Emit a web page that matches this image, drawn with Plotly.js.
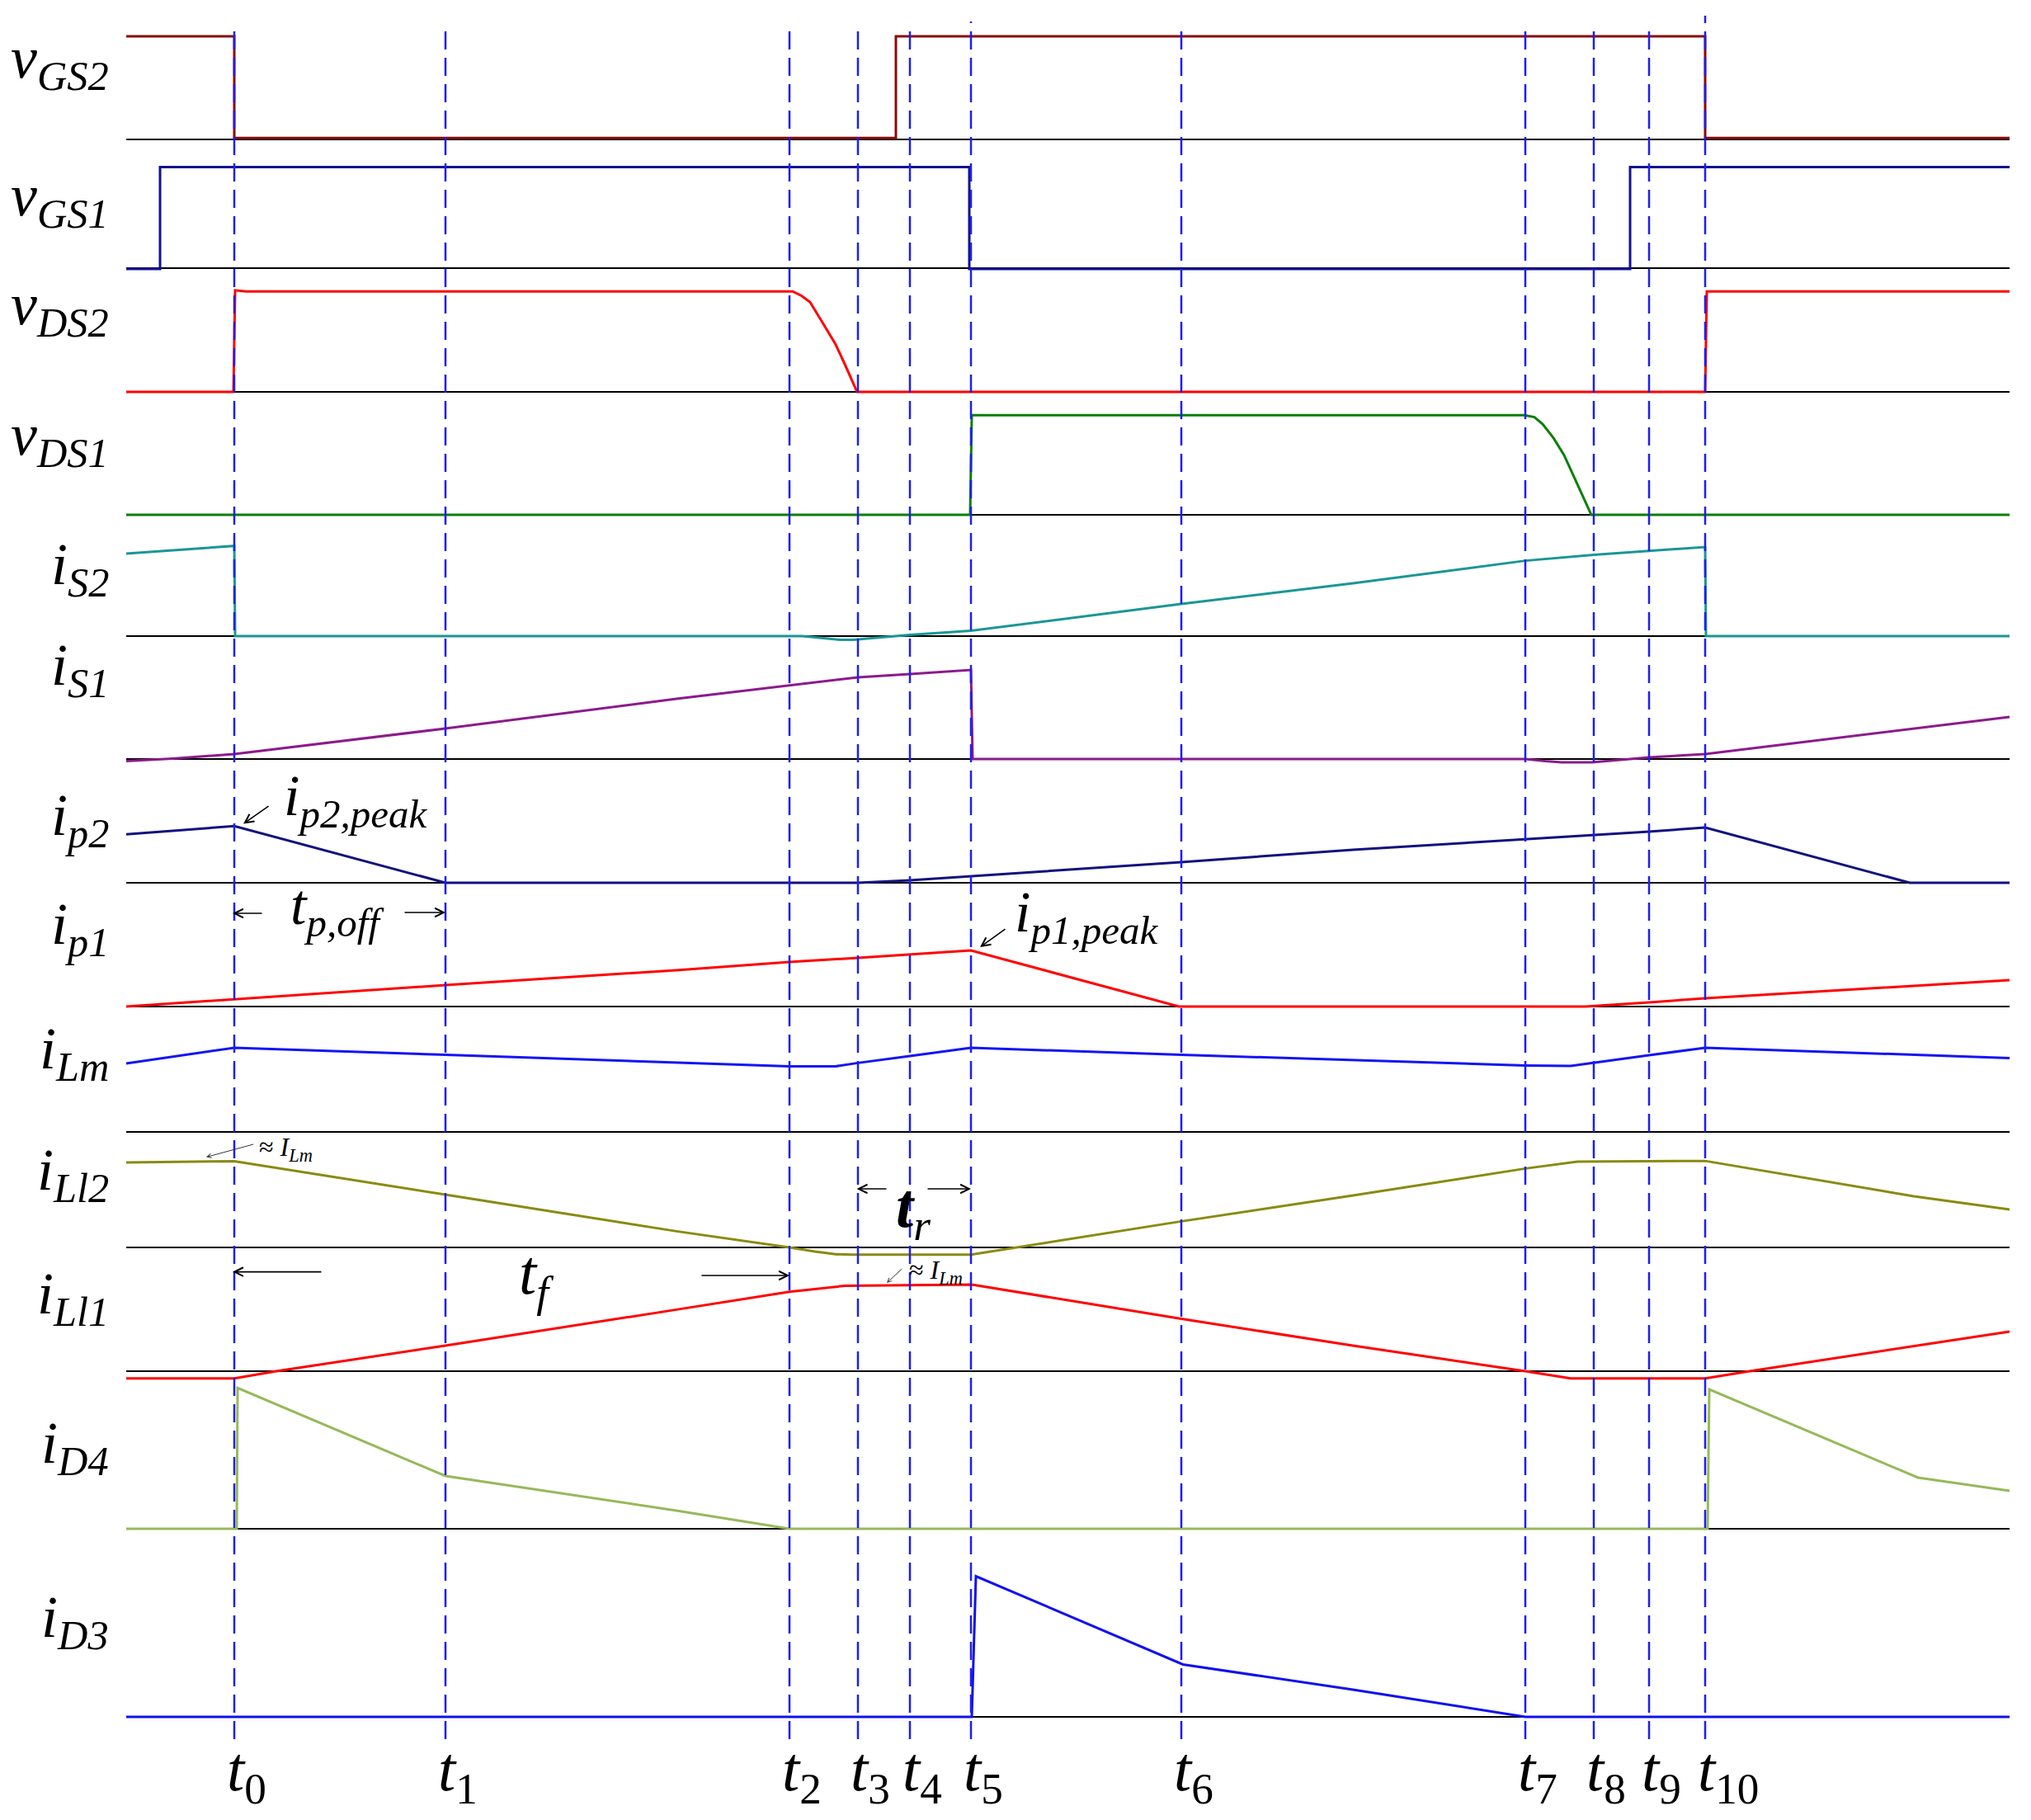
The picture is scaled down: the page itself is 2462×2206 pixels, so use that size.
<!DOCTYPE html>
<html><head><meta charset="utf-8">
<script src="https://cdn.plot.ly/plotly-3.0.1.min.js"></script>
<style>html,body{margin:0;padding:0;background:#fff}</style>
</head><body><div id="chart" style="width:2462px;height:2206px"></div>
<script>
// ---------- DATA (time in arbitrary units, amplitudes normalised) ----------
const eventTimes  = [13.1, 38.7, 80.4, 88.7, 95.0, 102.4, 127.9, 169.6, 177.9, 184.6, 191.4];
const eventLabels = ['0','1','2','3','4','5','6','7','8','9','10'];
const rowLabels = ['v<sub>GS2</sub>','v<sub>GS1</sub>','v<sub>DS2</sub>','v<sub>DS1</sub>',
  'i<sub>S2</sub>','i<sub>S1</sub>','i<sub>p2</sub>','i<sub>p1</sub>','i<sub>Lm</sub>',
  'i<sub>Ll2</sub>','i<sub>Ll1</sub>','i<sub>D4</sub>','i<sub>D3</sub>'];

const vGS2_t = [0, 13.1, 13.1, 93.3, 93.3, 191.4, 191.4, 228.3];
const vGS2_v = [1, 1, 0.015, 0.015, 1, 1, 0.015, 0.015];

const vGS1_t = [0, 4.1, 4.1, 102.2, 102.2, 182.3, 182.3, 228.3];
const vGS1_v = [-0.008, -0.008, 0.98, 0.98, -0.008, -0.008, 0.98, 0.98];

const vDS2_t = [0, 13.0, 13.2, 14.5, 80.4, 80.8, 81.9, 82.9, 84.5, 86.0, 87.1, 87.9, 88.6, 191.4, 191.6, 228.3];
const vDS2_v = [0, 0, 0.985, 0.975, 0.975, 0.975, 0.93, 0.87, 0.66, 0.46, 0.27, 0.12, 0, 0, 0.975, 0.975];

const vDS1_t = [0, 102.3, 102.5, 169.5, 170.7, 171.7, 173.0, 174.3, 175.6, 176.7, 177.6, 228.3];
const vDS1_v = [0, 0, 0.966, 0.966, 0.947, 0.88, 0.747, 0.578, 0.351, 0.162, 0, 0];

const iS2_t = [0, 13.1, 13.2, 81.9, 84.0, 86.6, 88.1, 90.5, 92.8, 95.0, 102.4, 127.9, 148.7, 169.6, 177.9, 184.6, 191.4, 191.5, 228.3];
const iS2_v = [0.80, 0.875, 0, 0, -0.016, -0.036, -0.036, -0.02, 0, 0.012, 0.052, 0.312, 0.512, 0.731, 0.788, 0.824, 0.864, 0, 0];

const iS1_t = [0, 5.6, 13.1, 38.7, 66.7, 80.4, 88.7, 95.0, 102.4, 102.6, 169.6, 172.0, 174.0, 177.7, 180.0, 182.7, 184.6, 191.4, 228.3];
const iS1_v = [-0.02, 0.004, 0.048, 0.296, 0.584, 0.717, 0.792, 0.824, 0.864, 0, 0, -0.02, -0.032, -0.032, -0.016, 0, 0.016, 0.048, 0.408];

const ip2_t = [0, 13.1, 38.7, 88.7, 95.0, 102.4, 127.9, 148.7, 169.6, 177.9, 184.6, 191.4, 216.2, 228.3];
const ip2_v = [0.47, 0.55, 0, 0, 0.024, 0.064, 0.20, 0.32, 0.424, 0.464, 0.496, 0.536, 0, 0];

const ip1_t = [0, 13.1, 38.7, 66.7, 80.4, 88.7, 95.0, 102.4, 127.6, 176.9, 184.6, 191.4, 228.3];
const ip1_v = [0, 0.072, 0.208, 0.352, 0.432, 0.472, 0.504, 0.544, 0, 0, 0.04, 0.08, 0.256];

const iLm_t = [0, 13.1, 38.7, 66.7, 80.4, 86.0, 88.7, 95.0, 102.4, 127.9, 148.7, 169.6, 175.1, 177.9, 184.6, 191.4, 228.3];
const iLm_v = [0.664, 0.816, 0.748, 0.677, 0.637, 0.637, 0.669, 0.736, 0.816, 0.748, 0.696, 0.645, 0.64, 0.669, 0.744, 0.816, 0.717];

const iLl2_t = [0, 13.1, 38.7, 66.7, 80.4, 83.5, 86.0, 88.0, 102.4, 108.0, 127.9, 148.7, 169.6, 175.9, 191.4, 216.7, 228.3];
const iLl2_v = [0.824, 0.836, 0.512, 0.157, 0, -0.04, -0.066, -0.07, -0.07, 0, 0.253, 0.504, 0.765, 0.832, 0.839, 0.496, 0.368];

const iLl1_t = [0, 13.1, 18.2, 38.7, 66.7, 80.4, 87.1, 102.5, 127.9, 148.7, 169.6, 175.1, 191.4, 196.8, 228.3];
const iLl1_v = [-0.07, -0.07, 0, 0.248, 0.597, 0.77, 0.828, 0.84, 0.508, 0.248, 0, -0.07, -0.07, 0, 0.384];

const iD4_t = [0, 13.4, 13.5, 38.7, 66.7, 80.4, 191.7, 191.9, 217.2, 228.3];
const iD4_v = [0, 0, 1.365, 0.512, 0.176, 0, 0, 1.352, 0.496, 0.368];

const iD3_t = [0, 102.5, 103.0, 128.1, 148.7, 169.6, 228.3];
const iD3_v = [0, 0, 1.364, 0.508, 0.264, 0, 0];

// ---------- LAYOUT GEOMETRY ----------
const W = 2462, H = 2206, X0 = 153, PXU = 10, S = 125;
const baselinesPx = [169, 325, 475, 624, 771, 920, 1070, 1220, 1372, 1512, 1662, 1853, 2081];
const labelYPx   = [75, 242, 374, 532, 689, 811, 993, 1125, 1276, 1423, 1573, 1754, 1965];
const tEnd = 228.3;
const X = px => (px - X0) / PXU;
const P = py => (H - py) / H;
const FONT = 'Liberation Serif, Times New Roman, serif';

const series = [
  [vGS2_t, vGS2_v, '#8B0A0A'],
  [vGS1_t, vGS1_v, '#12128E'],
  [vDS2_t, vDS2_v, '#FF0000'],
  [vDS1_t, vDS1_v, '#0A7F0A'],
  [iS2_t,  iS2_v,  '#1A9696'],
  [iS1_t,  iS1_v,  '#8C1A8C'],
  [ip2_t,  ip2_v,  '#12127F'],
  [ip1_t,  ip1_v,  '#FF0000'],
  [iLm_t,  iLm_v,  '#1414F5'],
  [iLl2_t, iLl2_v, '#8A8A10'],
  [iLl1_t, iLl1_v, '#FF0000'],
  [iD4_t,  iD4_v,  '#96B95A'],
  [iD3_t,  iD3_v,  '#1010F0']
];

const traces = series.map((s, k) => ({
  type: 'scatter', mode: 'lines', x: s[0], y: s[1],
  xaxis: 'x', yaxis: k === 0 ? 'y' : 'y' + (k + 1),
  line: {color: s[2], width: 3}, hoverinfo: 'skip', showlegend: false
}));

const layout = {
  width: W, height: H, autosize: false,
  margin: {l: 0, r: 0, t: 0, b: 0, pad: 0},
  paper_bgcolor: '#fff', plot_bgcolor: 'rgba(0,0,0,0)',
  showlegend: false,
  xaxis: {range: [X(0), X(W)], visible: false, fixedrange: true},
  shapes: [], annotations: []
};
baselinesPx.forEach((yb, k) => {
  const name = k === 0 ? 'yaxis' : 'yaxis' + (k + 1);
  layout[name] = {range: [(yb - H) / S, yb / S], visible: false, fixedrange: true, domain: [0, 1]};
  if (k > 0) layout[name].overlaying = 'y';
  layout.shapes.push({type: 'line', layer: 'below', xref: 'x', yref: k === 0 ? 'y' : 'y' + (k + 1),
    x0: 0, x1: tEnd, y0: 0, y1: 0, line: {color: '#000', width: 2}});
});

// vertical dashed event lines
const dashTopPx = [34, 34, 35, 33, 34, 26, 29, 31, 28, 30, 19];
eventTimes.forEach((t, i) => {
  layout.shapes.push({type: 'line', layer: 'above', xref: 'x', yref: 'paper',
    x0: t, x1: t, y0: P(2108), y1: P(dashTopPx[i]),
    line: {color: '#1E1EF0', width: 2.5, dash: '22px,10px'}});
  layout.annotations.push({xref: 'x', yref: 'paper', x: t - 1.1, y: P(2150),
    xanchor: 'left', yanchor: 'middle', showarrow: false,
    text: '<i>t</i><sub>' + eventLabels[i] + '</sub>',
    font: {family: FONT, size: 76, color: '#000'}});
});

// row labels
rowLabels.forEach((lab, k) => {
  layout.annotations.push({xref: 'x', yref: 'paper', x: X(134), y: P(labelYPx[k]),
    xanchor: 'right', yanchor: 'middle', showarrow: false,
    text: '<i>' + lab + '</i>',
    font: {family: FONT, size: 72, color: '#000'}});
});

// in-plot text annotations
const txt = (x, y, text, size) => layout.annotations.push({xref: 'x', yref: 'paper',
  x: X(x), y: P(y), xanchor: 'left', yanchor: 'middle', showarrow: false, text: text,
  font: {family: FONT, size: size, color: '#000'}});
txt(342, 970, '<i>i<sub>p2,peak</sub></i>', 70);
txt(1228, 1111, '<i>i<sub>p1,peak</sub></i>', 70);
txt(350, 1102, '<i>t<sub>p,off</sub></i>', 70);
txt(1084, 1467, '<b><i>t</i></b><i><sub>r</sub></i>', 76);
txt(627, 1548, '<i>t<sub>f</sub></i>', 76);
txt(312, 1392, '≈ <i>I<sub>Lm</sub></i>', 32);
txt(1100, 1541, '≈ <i>I<sub>Lm</sub></i>', 32);

// arrows: tip (x,y) and tail (x,y) in picture pixels
const arrows = [
  [295, 998.5, 327, 976], [1188, 1148, 1220, 1125],
  [250, 1402.5, 308.6, 1386.6], [1075, 1555, 1094.6, 1536.8],
  [282, 1107, 319, 1107], [540, 1106, 489, 1106],
  [1038.6, 1441, 1076, 1441], [1177, 1441, 1123, 1441],
  [282, 1541.6, 391, 1541.6], [957, 1546, 849, 1546]
];
arrows.forEach((a, i) => {
  const small = (i === 2 || i === 3);
  layout.annotations.push({xref: 'x', yref: 'paper', x: X(a[0]), y: P(a[1]),
    ax: a[2] - a[0], ay: a[3] - a[1], text: '', showarrow: true,
    arrowhead: 5, arrowsize: small ? 1.0 : 1.3, arrowwidth: small ? 1 : 1.6,
    arrowcolor: small ? '#333' : '#000', standoff: 0, startstandoff: 0,
    font: {size: 1}});
});

Plotly.newPlot('chart', traces, layout, {staticPlot: true, displayModeBar: false});
</script></body></html>
